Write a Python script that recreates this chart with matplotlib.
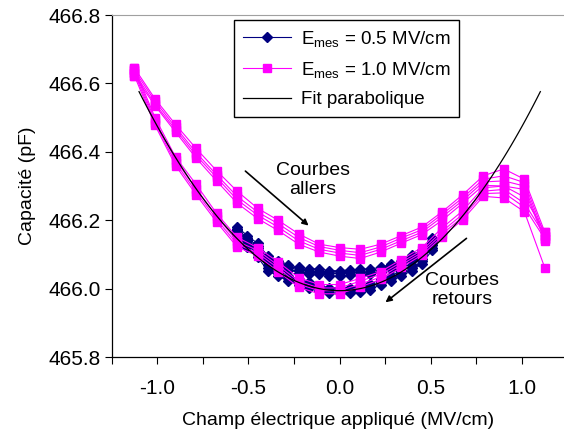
"""Capacité vs champ électrique appliqué, cycles aller/retour."""

import matplotlib

matplotlib.use("Agg")
import matplotlib.pyplot as plt

plt.rcParams["font.family"] = ["Liberation Sans", "DejaVu Sans"]

# champ électrique (MV/cm)
field_1mv = [-1.125, -1.0125, -0.9, -0.7875, -0.675, -0.5625, -0.45, -0.3375,
             -0.225, -0.1125, 0.0, 0.1125, 0.225, 0.3375, 0.45, 0.5625,
             0.675, 0.7875, 0.9, 1.0125, 1.125]
field_05mv = [-0.5625, -0.50625, -0.45, -0.39375, -0.3375, -0.28125, -0.225,
              -0.16875, -0.1125, -0.05625, 0.0, 0.05625, 0.1125, 0.16875,
              0.225, 0.28125, 0.3375, 0.39375, 0.45, 0.50625]

# E_mes = 1.0 MV/cm, courbes allers (4 cycles)
aller_1mv = [
    [466.645, 466.555, 466.48, 466.41, 466.345, 466.285, 466.235, 466.2, 466.16, 466.13, 466.12,
     466.115, 466.13, 466.155, 466.18, 466.225, 466.275, 466.33, 466.35, 466.32, 466.165],
    [466.638, 466.548, 466.472, 466.398, 466.333, 466.27, 466.224, 466.19, 466.15, 466.123, 466.112,
     466.105, 466.122, 466.148, 466.172, 466.218, 466.266, 466.32, 466.33, 466.31, 466.155],
    [466.63, 466.54, 466.465, 466.39, 466.325, 466.26, 466.215, 466.18, 466.14, 466.115, 466.104,
     466.097, 466.115, 466.14, 466.165, 466.21, 466.258, 466.312, 466.315, 466.3, 466.145],
    [466.622, 466.535, 466.458, 466.382, 466.315, 466.25, 466.205, 466.17, 466.13, 466.107, 466.095,
     466.088, 466.107, 466.133, 466.158, 466.2, 466.25, 466.302, 466.3, 466.29, 466.14],
]
# E_mes = 1.0 MV/cm, courbes retours (4 cycles)
retour_1mv = [
    [466.645, 466.5, 466.385, 466.305, 466.22, 466.15, 466.12, 466.078, 466.032, 466.012, 466.012,
     466.03, 466.05, 466.085, 466.12, 466.178, 466.228, 466.295, 466.3, 466.268, 466.165],
    [466.638, 466.492, 466.376, 466.292, 466.212, 466.138, 466.112, 466.068, 466.022, 466.002, 466.002,
     466.022, 466.042, 466.077, 466.112, 466.168, 466.218, 466.285, 466.29, 466.25, 466.155],
    [466.63, 466.485, 466.368, 466.283, 466.203, 466.13, 466.104, 466.06, 466.013, 465.994, 465.994,
     466.013, 466.034, 466.07, 466.105, 466.16, 466.21, 466.278, 466.28, 466.238, 466.145],
    [466.622, 466.478, 466.36, 466.275, 466.195, 466.122, 466.096, 466.05, 466.004, 465.985, 465.985,
     466.005, 466.027, 466.062, 466.098, 466.152, 466.202, 466.27, 466.265, 466.225, 466.06],
]

# E_mes = 0.5 MV/cm (3 cycles, deux branches)
aller_05mv = [
    [466.18, 466.155, 466.132, 466.095, 466.082, 466.07, 466.062, 466.058, 466.057, 466.053,
     466.052, 466.055, 466.056, 466.058, 466.062, 466.072, 466.082, 466.097, 466.112, 466.148],
    [466.175, 466.148, 466.125, 466.088, 466.075, 466.062, 466.055, 466.05, 466.05, 466.045,
     466.045, 466.048, 466.048, 466.05, 466.055, 466.065, 466.075, 466.09, 466.105, 466.14],
    [466.17, 466.142, 466.118, 466.08, 466.068, 466.055, 466.047, 466.042, 466.042, 466.038,
     466.037, 466.04, 466.04, 466.042, 466.048, 466.058, 466.068, 466.083, 466.098, 466.133],
]
retour_05mv = [
    [466.168, 466.138, 466.108, 466.068, 466.053, 466.038, 466.028, 466.018, 466.008, 466.003,
     466.002, 466.003, 466.006, 466.013, 466.028, 466.038, 466.053, 466.068, 466.088, 466.128],
    [466.163, 466.13, 466.1, 466.06, 466.045, 466.03, 466.02, 466.01, 466.0, 465.995,
     465.995, 465.995, 465.998, 466.005, 466.02, 466.03, 466.045, 466.06, 466.08, 466.12],
    [466.158, 466.122, 466.092, 466.052, 466.037, 466.022, 466.012, 466.002, 465.992, 465.987,
     465.987, 465.988, 465.99, 465.997, 466.012, 466.022, 466.037, 466.052, 466.072, 466.112],
]

# fit parabolique: C = c0 + c2 * E^2
fit_c0 = 465.994
fit_c2 = 0.481
fit_field = [-1.1 + 0.02 * k for k in range(111)]

BLUE = "#000080"
MAGENTA = "#FF00FF"


def main():
    fig = plt.figure(figsize=(5.64, 4.37), dpi=100)
    ax = fig.add_axes([0.198, 0.183, 0.802, 0.7826])

    for k, ys in enumerate(aller_05mv + retour_05mv):
        ax.plot(field_05mv, ys, color=BLUE, lw=0.8, marker="D", ms=5,
                mec=BLUE, mfc=BLUE,
                label=r"$\mathregular{E_{mes}}$ = 0.5 MV/cm" if k == 0 else None)
    for k, ys in enumerate(aller_1mv + retour_1mv):
        ax.plot(field_1mv, ys, color=MAGENTA, lw=0.8, marker="s", ms=5.5,
                mec=MAGENTA, mfc=MAGENTA,
                label=r"$\mathregular{E_{mes}}$ = 1.0 MV/cm" if k == 0 else None)
    ax.plot(fit_field, [fit_c0 + fit_c2 * e * e for e in fit_field],
            color="black", lw=0.9, label="Fit parabolique")

    ax.set_xlim(-1.25, 1.2297)
    ax.set_ylim(465.8, 466.8)
    ax.set_xticks([-1.25, -1.0, -0.75, -0.5, -0.25, 0.0, 0.25, 0.5, 0.75, 1.0])
    ax.set_xticklabels(["", "-1.0", "", "-0.5", "", "0.0", "", "0.5", "", "1.0"])
    ax.set_yticks([465.8, 466.0, 466.2, 466.4, 466.6, 466.8])
    ax.set_yticklabels(["465.8", "466.0", "466.2", "466.4", "466.6", "466.8"])
    ax.tick_params(axis="x", direction="out", length=5, width=0.8, pad=11, labelsize=15)
    ax.tick_params(axis="y", direction="out", length=5, width=0.8, pad=3, labelsize=15)

    ax.spines["right"].set_visible(False)
    ax.spines["top"].set_color("#a0a0a0")
    ax.spines["left"].set_linewidth(0.9)
    ax.spines["bottom"].set_linewidth(0.9)

    ax.set_xlabel("Champ électrique appliqué (MV/cm)", fontsize=14, labelpad=10)
    ax.set_ylabel("Capacité (pF)", fontsize=14, labelpad=9)

    ax.annotate("", xy=(-0.159, 466.179), xytext=(-0.5285, 466.349),
                arrowprops=dict(arrowstyle="-|>", color="black", lw=1.2,
                                mutation_scale=9))
    ax.text(-0.146, 466.318, "Courbes\nallers", fontsize=14, ha="center",
            va="center", linespacing=1.2)
    ax.annotate("", xy=(0.239, 465.955), xytext=(0.707, 466.152),
                arrowprops=dict(arrowstyle="-|>", color="black", lw=1.2,
                                mutation_scale=9))
    ax.text(0.670, 465.996, "Courbes\nretours", fontsize=14, ha="center",
            va="center", linespacing=1.2)

    leg = ax.legend(loc="upper left", bbox_to_anchor=(0.271, 0.985),
                    fontsize=13.5, frameon=True, fancybox=False, framealpha=1,
                    edgecolor="black", handlelength=2.6, handletextpad=0.5,
                    labelspacing=0.6, borderpad=0.45, borderaxespad=0)
    leg.get_frame().set_linewidth(1.0)

    fig.savefig("out.png", dpi=100)
    plt.close(fig)


if __name__ == "__main__":
    main()
